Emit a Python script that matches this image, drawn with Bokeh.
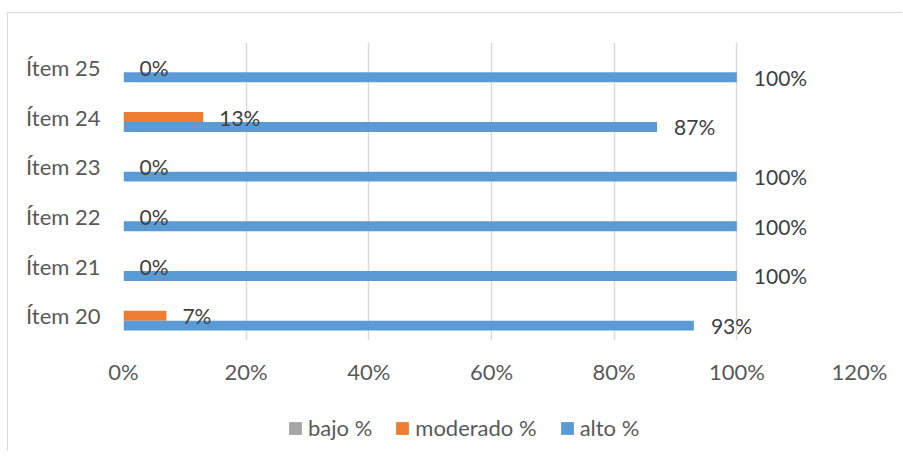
from bokeh.plotting import figure
from bokeh.layouts import column
from bokeh.models import (FactorRange, ColumnDataSource, Legend, LegendItem, FixedTicker,
                          NumeralTickFormatter, Range1d)
from bokeh.transform import dodge
from bokeh.core.properties import value
from bokeh.embed import file_html
from bokeh.resources import INLINE

items = ["Ítem 20", "Ítem 21", "Ítem 22", "Ítem 23", "Ítem 24", "Ítem 25"]
bajo = [0, 0, 0, 0, 0, 0]
moderado = [0.07, 0.0, 0.0, 0.0, 0.13, 0.0]
alto = [0.93, 1.0, 1.0, 1.0, 0.87, 1.0]
moderado_labels = ["7%", "0%", "0%", "0%", "13%", "0%"]
alto_labels = ["93%", "100%", "100%", "100%", "87%", "100%"]
x_ticks = [0, 0.2, 0.4, 0.6, 0.8, 1.0, 1.2]
series_names = ["bajo %", "moderado %", "alto %"]
colors = ["#a5a5a5", "#ed7d31", "#5b9bd5"]

FONT = "Lato"
src = ColumnDataSource(dict(items=items, bajo=bajo, moderado=moderado, alto=alto,
                            ml=moderado_labels, al=alto_labels))

p = figure(y_range=FactorRange(factors=items, range_padding=0), x_range=(0, 1.2),
           width=894, height=374, output_backend="svg", toolbar_location=None,
           min_border_left=115, min_border_right=43, min_border_top=29, min_border_bottom=45)
p.outline_line_color = None
p.background_fill_color = "white"

p.hbar(y=dodge("items", 0.2, range=p.y_range), right="bajo", left=0, height=0.2,
       source=src, color=colors[0], line_color=None)
p.hbar(y=dodge("items", 0.0, range=p.y_range), right="moderado", left=0, height=0.2,
       source=src, color=colors[1], line_color=None)
p.hbar(y=dodge("items", -0.2, range=p.y_range), right="alto", left=0, height=0.2,
       source=src, color=colors[2], line_color=None)

p.text(x="moderado", y=dodge("items", 0.0, range=p.y_range), text="ml", source=src,
       x_offset=16, text_baseline="middle", text_font=value(FONT), text_font_size="21px",
       text_color="#404040")
p.text(x="alto", y=dodge("items", -0.2, range=p.y_range), text="al", source=src,
       x_offset=17, text_baseline="middle", text_font=value(FONT), text_font_size="21px",
       text_color="#404040")

p.xaxis.ticker = FixedTicker(ticks=x_ticks)
p.xaxis.formatter = NumeralTickFormatter(format="0%")
for ax in (p.xaxis, p.yaxis):
    ax.axis_line_color = None
    ax.major_tick_line_color = None
    ax.minor_tick_line_color = None
    ax.major_label_text_font = FONT
    ax.major_label_text_font_size = "22px"
    ax.major_label_text_color = "#595959"
p.xaxis.major_label_standoff = 11
p.yaxis.major_label_standoff = 17
p.xgrid.grid_line_color = "#d9d9d9"
p.xgrid.grid_line_width = 1.5
p.ygrid.grid_line_color = None

# legend strip (a second, axis-less figure holding only the legend)
p2 = figure(width=894, height=64, output_backend="svg", toolbar_location=None,
            x_range=Range1d(0, 1), y_range=Range1d(0, 1),
            min_border_left=0, min_border_right=0, min_border_top=0, min_border_bottom=0)
p2.axis.visible = False
p2.grid.grid_line_color = None
p2.outline_line_color = None
legend_renderers = []
for c in colors:
    r = p2.hbar(y="y", right="right", left="left", height=0.2,
                source=ColumnDataSource(dict(y=[0], right=[0], left=[0])),
                color=c, line_color=None)
    legend_renderers.append(r)
legend = Legend(items=[LegendItem(label=n, renderers=[r]) for n, r in zip(series_names, legend_renderers)],
                orientation="horizontal", location=(164, 10),
                label_text_font=FONT, label_text_font_size="22px", label_text_color="#595959",
                glyph_width=16, glyph_height=16, label_standoff=5, spacing=22, padding=0,
                margin=0, border_line_color=None, background_fill_alpha=0, label_height=20)
p2.add_layout(legend, "center")

layout = column(p, p2, spacing=0)
layout.styles = {"border-top": "1px solid #d9d9d9", "border-left": "1px solid #d9d9d9",
                 "margin-left": "7px", "margin-top": "12px"}

open("out.html", "w").write(file_html(layout, INLINE))
